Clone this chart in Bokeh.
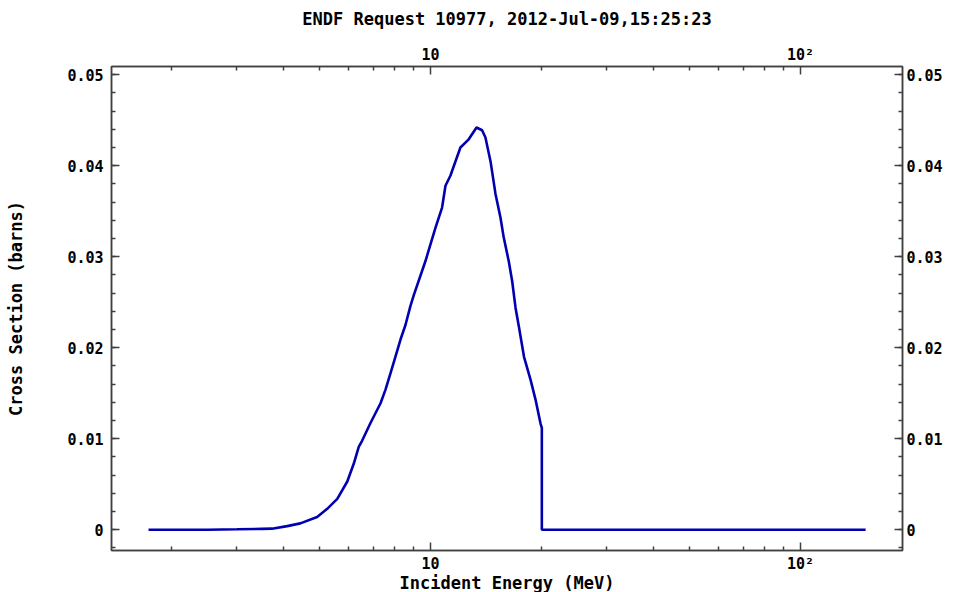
from bokeh.plotting import figure
from bokeh.models import Range1d, LogAxis, LinearAxis, FixedTicker, CustomJSTickFormatter
from bokeh.embed import file_html
from bokeh.resources import INLINE

title_text = "ENDF Request 10977, 2012-Jul-09,15:25:23"
x_label = "Incident Energy (MeV)"
y_label = "Cross Section (barns)"

energy_mev = [1.73, 2.5, 3.0, 3.5, 3.73, 4.10, 4.45, 4.94, 5.26, 5.60, 5.96, 6.21,
              6.40, 6.54, 6.88, 7.33, 7.56, 7.80, 8.04, 8.30, 8.56, 8.83, 9.02,
              9.69, 10.32, 10.75, 10.98, 11.32, 12.05, 12.69, 13.32, 13.79, 14.08,
              14.53, 14.99, 15.46, 15.78, 16.28, 16.63, 16.98, 17.34, 17.90, 18.64,
              19.23, 19.83, 20.0, 20.0, 150.0]
cross_section = [0.0, 0.0, 0.00005, 0.0001, 0.00012, 0.0004, 0.0007, 0.0014, 0.0023,
                 0.0034, 0.0053, 0.0073, 0.0091, 0.0098, 0.0117, 0.0139, 0.0154,
                 0.0172, 0.0190, 0.0209, 0.0225, 0.0246, 0.0258, 0.0295, 0.0332,
                 0.0354, 0.0378, 0.0389, 0.0420, 0.0429, 0.0442, 0.0439, 0.0431,
                 0.0405, 0.0369, 0.0343, 0.0321, 0.0295, 0.0273, 0.0244, 0.0223,
                 0.0190, 0.0165, 0.0143, 0.0117, 0.0112, 0.0, 0.0]

x_major = [10, 100]
x_minor = [2, 3, 4, 5, 6, 7, 8, 9, 20, 30, 40, 50, 60, 70, 80, 90]
y_major = [0.0, 0.01, 0.02, 0.03, 0.04, 0.05]
y_minor = [round(-0.002 + 0.002 * i, 4) for i in range(27)]

FONT = "DejaVu Sans Mono"
AXIS_COLOR = "#404040"

p = figure(frame_width=791, frame_height=484,
           x_axis_type="log",
           x_range=Range1d(1.374, 188.7), y_range=Range1d(-0.00228, 0.0509),
           output_backend="svg", toolbar_location=None,
           min_border_left=111, min_border_right=50,
           min_border_top=66, min_border_bottom=40)

p.xgrid.visible = False
p.ygrid.visible = False
p.outline_line_color = AXIS_COLOR
p.outline_line_width = 1.5

p.line(energy_mev, cross_section, line_color="#0000b0", line_width=2.6)

xfmt = CustomJSTickFormatter(code="""
const e = Math.round(Math.log10(tick));
return e == 1 ? "10" : "10\u00b2";
""")
yfmt = CustomJSTickFormatter(code="""
return Math.abs(tick) < 1e-9 ? "0" : tick.toFixed(2);
""")

def style(ax, fmt, ticker):
    ax.ticker = ticker
    ax.formatter = fmt
    ax.axis_line_color = AXIS_COLOR
    ax.axis_line_width = 1.5
    ax.major_tick_line_color = AXIS_COLOR
    ax.minor_tick_line_color = AXIS_COLOR
    ax.major_tick_line_width = 1.5
    ax.minor_tick_line_width = 1.5
    ax.major_tick_in = 8
    ax.major_tick_out = 0
    ax.minor_tick_in = 4
    ax.minor_tick_out = 0
    ax.major_label_text_font = FONT
    ax.major_label_text_font_size = "15px"
    ax.major_label_text_font_style = "bold"
    ax.major_label_text_color = "black"
    ax.axis_label_text_font = FONT
    ax.axis_label_text_font_size = "17px"
    ax.axis_label_text_font_style = "bold"
    ax.axis_label_text_color = "black"

xtick = FixedTicker(ticks=x_major, minor_ticks=x_minor)
ytick = FixedTicker(ticks=y_major, minor_ticks=y_minor)

bottom = p.xaxis[0]
style(bottom, xfmt, xtick)
bottom.axis_label = x_label
bottom.major_label_standoff = 4
bottom.axis_label_standoff = -3

left = p.yaxis[0]
style(left, yfmt, ytick)
left.axis_label = y_label
left.major_label_standoff = 8
left.axis_label_standoff = 38

# top axis; its label carries the chart's title line
top = LogAxis()
style(top, xfmt, FixedTicker(ticks=x_major, minor_ticks=x_minor))
top.major_label_standoff = 3
top.axis_label = title_text
top.axis_label_standoff = 14
p.add_layout(top, "above")

right = LinearAxis()
style(right, yfmt, FixedTicker(ticks=y_major, minor_ticks=y_minor))
right.major_label_standoff = 4
p.add_layout(right, "right")

open("out.html", "w").write(file_html(p, INLINE))
